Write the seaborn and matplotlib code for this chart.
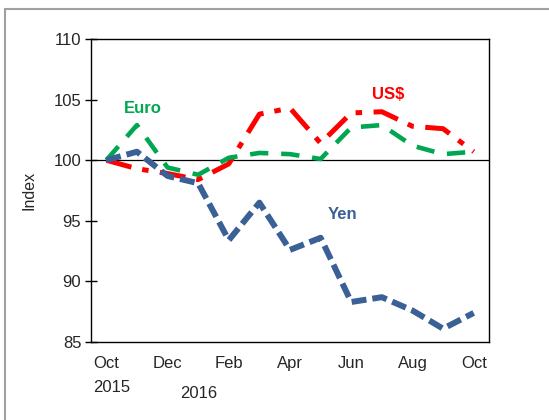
import matplotlib
matplotlib.use("Agg")
import matplotlib.pyplot as plt
import seaborn as sns
import numpy as np
from matplotlib.patches import Rectangle

sns.set_style("white")
plt.rcParams['font.family'] = ['Liberation Sans', 'DejaVu Sans']

months = ["Oct", "Nov", "Dec", "Jan", "Feb", "Mar", "Apr", "May", "Jun", "Jul", "Aug", "Sep", "Oct"]
yen = [100.0, 100.7, 98.7, 98.1, 93.4, 96.5, 92.6, 93.6, 88.3, 88.7, 87.6, 86.1, 87.4]
euro = [100.0, 102.9, 99.4, 98.8, 100.2, 100.6, 100.5, 100.1, 102.7, 102.9, 101.2, 100.5, 100.7]
usd = [100.0, 99.3, 98.9, 98.4, 99.7, 103.8, 104.3, 101.4, 103.9, 104.0, 102.8, 102.6, 100.7]

fig = plt.figure(figsize=(5.49, 4.2), dpi=100)
ax = fig.add_axes([0.1658, 0.1857, 0.7249, 0.7214])

x = np.arange(len(months))
ax.axhline(100, color="black", lw=0.9, zorder=1)
sns.lineplot(x=x, y=usd, ax=ax, color="#FF0000", linewidth=3.6,
             linestyle=(0, (5.2, 2.2, 1.3, 2.3)), zorder=3)
sns.lineplot(x=x, y=euro, ax=ax, color="#00A650", linewidth=3.3,
             linestyle=(0, (4.0, 2.8)), zorder=4)
sns.lineplot(x=x, y=yen, ax=ax, color="#3A6096", linewidth=4.3,
             linestyle=(0, (2.5, 1.0)), zorder=5)

ax.set_xlim(-0.5, 12.5)
ax.set_ylim(85, 110)
ax.set_yticks([85, 90, 95, 100, 105, 110])
ax.set_xticks(x)
ax.set_xticklabels([m if i % 2 == 0 else "" for i, m in enumerate(months)])
ax.tick_params(axis="x", direction="inout", length=8, width=1, color="black",
               labelsize=12, pad=6)
ax.tick_params(axis="y", direction="inout", length=8, width=1, color="black",
               labelsize=12, left=True, pad=3)
for s in ax.spines.values():
    s.set_color("black")
    s.set_linewidth(1)
ax.set_ylabel("Index", fontsize=11.5, labelpad=12)

fig.text(112/549, 1 - 387/420, "2015", fontsize=12, ha="center", va="center")
fig.text(199/549, 1 - 393/420, "2016", fontsize=12, ha="center", va="center")

ax.text(1.2, 104.3, "Euro", color="#00A650", fontsize=12, fontweight="bold", ha="center", va="center")
ax.text(9.2, 105.45, "US$", color="#FF0000", fontsize=12, fontweight="bold", ha="center", va="center")
ax.text(7.73, 95.5, "Yen", color="#3A6096", fontsize=12, fontweight="bold", ha="center", va="center")

fig.patches.append(Rectangle((5/549, -0.05), 1.2, 1 - 9/420 + 0.05, transform=fig.transFigure,
                             fill=False, edgecolor="#a0a0a0", linewidth=1.5))

fig.savefig("out.png", dpi=100)
